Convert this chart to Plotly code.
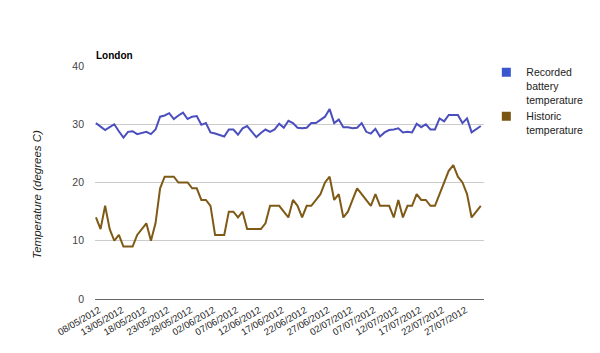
import plotly.graph_objects as go
import pandas as pd

recorded = [30.2, 29.6, 29.0, 29.5, 30.0, 28.8, 27.7, 28.7, 28.8, 28.3,
            28.5, 28.7, 28.3, 29.1, 31.3, 31.5, 31.9, 30.9, 31.5, 32.0,
            30.9, 31.3, 31.4, 29.9, 30.2, 28.6, 28.4, 28.2, 27.9, 29.1,
            29.1, 28.2, 29.3, 29.7, 28.7, 27.8, 28.5, 29.1, 28.7, 29.1,
            30.1, 29.4, 30.6, 30.2, 29.4, 29.3, 29.4, 30.2, 30.2, 30.8,
            31.3, 32.6, 30.2, 30.8, 29.5, 29.5, 29.3, 29.4, 30.2, 28.7,
            28.4, 29.2, 27.9, 28.6, 29.0, 29.1, 29.3, 28.6, 28.7, 28.6,
            30.1, 29.5, 30.0, 29.1, 29.1, 31.0, 30.5, 31.6, 31.6, 31.6,
            30.2, 31.0, 28.6, 29.2, 29.7]

historic = [14, 12, 16, 12, 10, 11, 9, 9, 9, 11,
            12, 13, 10, 13, 19, 21, 21, 21, 20, 20,
            20, 19, 19, 17, 17, 16, 11, 11, 11, 15,
            15, 14, 15, 12, 12, 12, 12, 13, 16, 16,
            16, 15, 14, 17, 16, 14, 16, 16, 17, 18,
            20, 21, 17, 18, 14, 15, 17, 19, 18, 17,
            16, 18, 16, 16, 16, 14, 17, 14, 16, 16,
            18, 17, 17, 16, 16, 18, 20, 22, 23, 21,
            20, 18, 14, 15, 16]

dates = list(pd.date_range("2012-05-08", periods=len(recorded), freq="D").strftime("%d/%m/%Y"))

tick_labels = ["08/05/2012", "13/05/2012", "18/05/2012", "23/05/2012", "28/05/2012",
               "02/06/2012", "07/06/2012", "12/06/2012", "17/06/2012", "22/06/2012",
               "27/06/2012", "02/07/2012", "07/07/2012", "12/07/2012", "17/07/2012",
               "22/07/2012", "27/07/2012"]

y_ticks = [0, 10, 20, 30, 40]

series_names = ["Recorded<br>battery<br>temperature", "Historic<br>temperature"]
line_colors = ["#4a4fbd", "#7f5a16"]
legend_colors = ["#3a56cf", "#7a5511"]

FONT = "Liberation Sans, Arial, sans-serif"

fig = go.Figure()
for vals, col in zip([recorded, historic], line_colors):
    fig.add_trace(go.Scatter(x=dates, y=vals, mode="lines",
                             line=dict(color=col, width=2), showlegend=False,
                             hoverinfo="x+y"))
for name, col in zip(series_names, legend_colors):
    fig.add_trace(go.Scatter(x=[None], y=[None], mode="markers", name=name,
                             marker=dict(symbol="square", size=9, color=col)))

fig.update_layout(
    width=600, height=353,
    margin=dict(l=95, r=105, t=66, b=54),
    paper_bgcolor="white", plot_bgcolor="white",
    font=dict(family=FONT, size=10, color="#222"),
    showlegend=True,
    legend=dict(x=1.006, xanchor="left", y=1.03, yanchor="top",
                valign="top", font=dict(size=10.5, color="#222"),
                itemwidth=30, tracegroupgap=0, bgcolor="rgba(0,0,0,0)"),
    xaxis=dict(type="category", range=[-0.21, 84.7], tickmode="array",
               tickvals=tick_labels, ticktext=tick_labels, tickangle=-30,
               tickfont=dict(size=9.5, color="#222"), showgrid=False,
               showline=False, ticks="", zeroline=False,
               ticklabelstandoff=3, ticklabelshift=3),
    yaxis=dict(range=[0, 40], tickvals=y_ticks, showgrid=True,
               gridcolor="#cccccc", gridwidth=1, zeroline=True,
               zerolinecolor="#666666", zerolinewidth=1,
               tickfont=dict(size=10.5, color="#444"), ticks="",
               ticklabelstandoff=10),
    annotations=[
        dict(text="<b>London</b>", x=-0.0025, xref="paper", y=1.047, yref="paper",
             xanchor="left", yanchor="middle", showarrow=False,
             font=dict(size=10, color="#000", family=FONT)),
        dict(text="<i>Temperature (degrees C)</i>", x=-0.15, xref="paper",
             y=0.45, yref="paper", xanchor="center", yanchor="middle",
             textangle=-90, showarrow=False,
             font=dict(size=11.5, color="#222", family=FONT)),
    ],
)

fig.write_html("out.html")
